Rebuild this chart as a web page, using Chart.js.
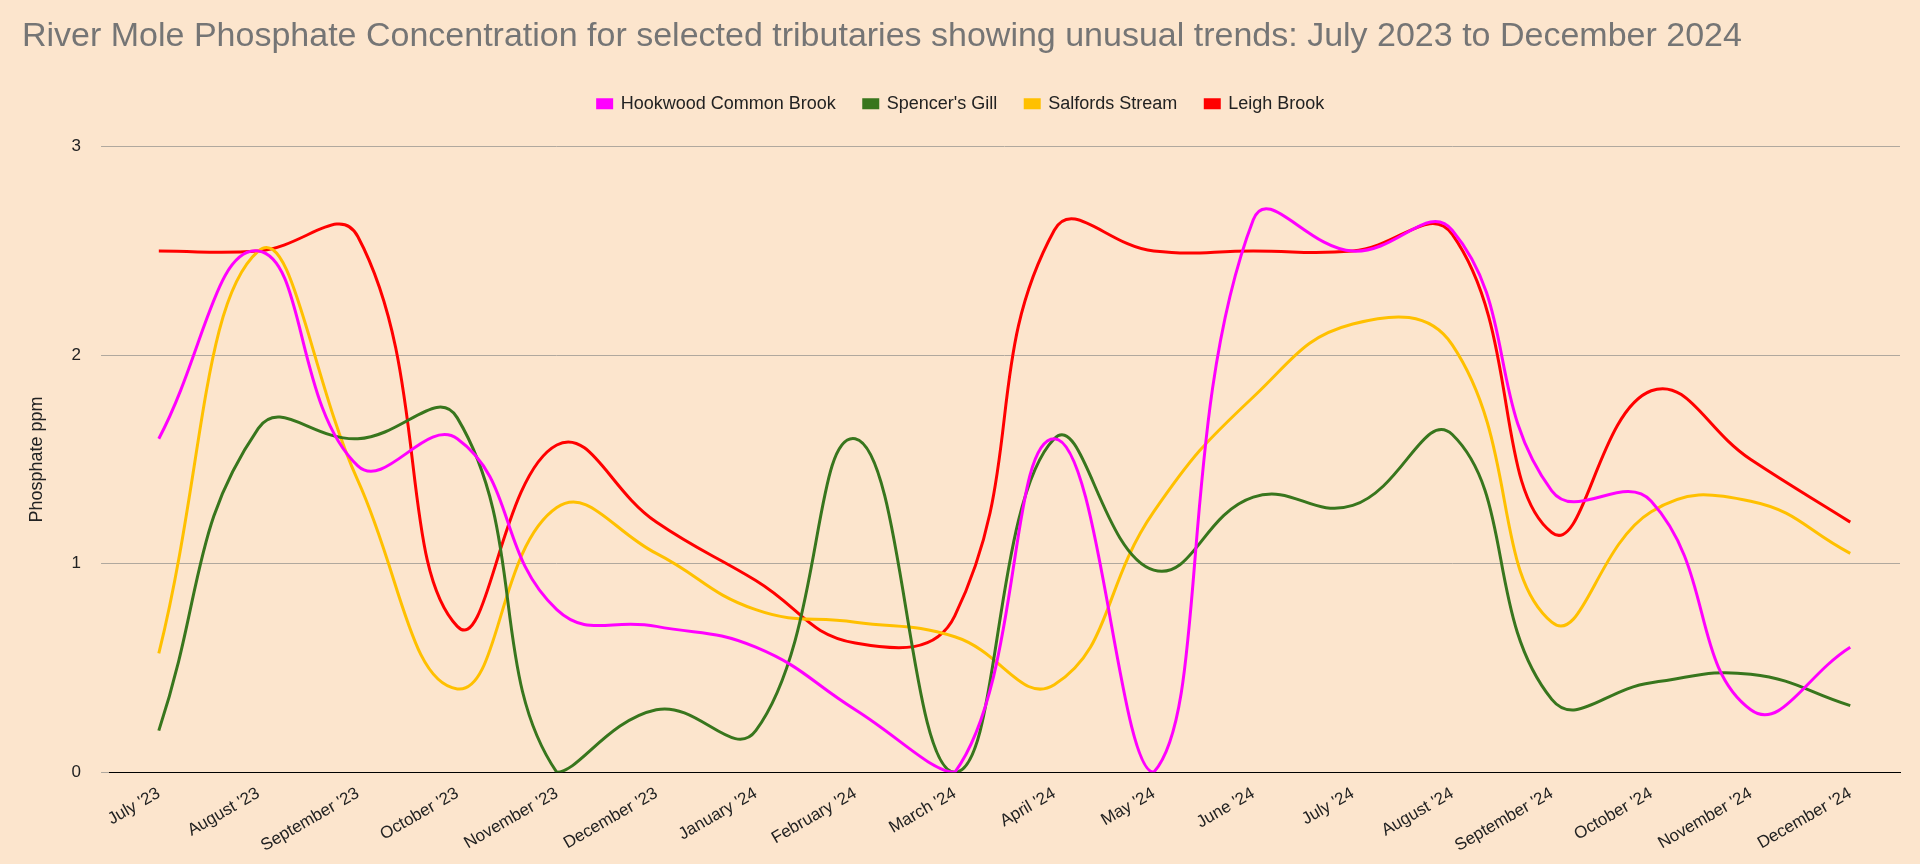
<!DOCTYPE html>
<html><head><meta charset="utf-8">
<script src="https://cdn.jsdelivr.net/npm/chart.js@4"></script>
<style>html,body{margin:0;background:#fce5cd;}#wrap{width:1920px;height:864px;}</style>
</head><body><div id="wrap"><canvas id="c"></canvas></div>
<script>
// months on the x axis
const labels = ["July '23","August '23","September '23","October '23","November '23","December '23","January '24","February '24","March '24","April '24","May '24","June '24","July '24","August '24","September '24","October '24","November '24","December '24"];
const hookwood = [1.6,2.5,1.47,1.6,0.78,0.7,0.6,0.3,0,1.6,0,2.65,2.5,2.6,1.35,1.3,0.3,0.6];
const spencers = [0.2,1.65,1.6,1.7,0,0.3,0.2,1.6,0,1.6,0.97,1.32,1.28,1.62,0.35,0.43,0.47,0.32];
const salfords = [0.57,2.5,1.4,0.4,1.27,1.05,0.78,0.72,0.65,0.42,1.25,1.8,2.15,2.05,0.72,1.25,1.3,1.05];
const leigh = [2.5,2.5,2.57,0.7,1.57,1.2,0.92,0.62,0.75,2.6,2.5,2.5,2.5,2.58,1.15,1.83,1.5,1.2];

function ds(label, data, color) {
    return { label, data, borderColor: color, backgroundColor: color, borderWidth: 3, pointRadius: 0, tension: 0.45, clip: 0 };
}

const font = 'Arial, "Liberation Sans"';

new Chart(document.getElementById('c'), {
    type: 'line',
    data: {
        labels,
        datasets: [
            ds('Hookwood Common Brook', hookwood, '#ff00ff'),
            ds("Spencer's Gill", spencers, '#38761d'),
            ds('Salfords Stream', salfords, '#ffc000'),
            ds('Leigh Brook', leigh, '#ff0000')
        ]
    },
    options: {
        responsive: true, maintainAspectRatio: false, animation: false,
        layout: { padding: { left: 22, right: 20, top: 12, bottom: 5 } },
        plugins: {
            title: { display: true, text: 'River Mole Phosphate Concentration for selected tributaries showing unusual trends: July 2023 to December 2024', align: 'start', color: '#757575', font: { family: font, size: 34, weight: 'normal' }, padding: { top: 4, bottom: 10 } },
            legend: { labels: { boxWidth: 14, boxHeight: 8, color: '#222', font: { family: font, size: 18 }, padding: 28 } },
            tooltip: { enabled: false }
        },
        scales: {
            x: { grid: { display: false }, border: { color: '#000' }, offset: true,
                 ticks: { maxRotation: 30, minRotation: 30, color: '#222', font: { family: font, size: 17 } } },
            y: { min: 0, max: 3, grid: { color: '#b0a89e' }, border: { display: false },
                 ticks: { stepSize: 1, color: '#222', padding: 20, font: { family: font, size: 17 } },
                 title: { display: true, text: 'Phosphate ppm', color: '#222', font: { family: font, size: 18 } } }
        }
    },
    plugins: [{
        // extra gap between legend and plot area
        id: 'legendGap',
        beforeInit(chart) {
            const fit = chart.legend.fit;
            chart.legend.fit = function () { fit.bind(chart.legend)(); this.height += 24; };
        }
    }]
});
</script></body></html>
